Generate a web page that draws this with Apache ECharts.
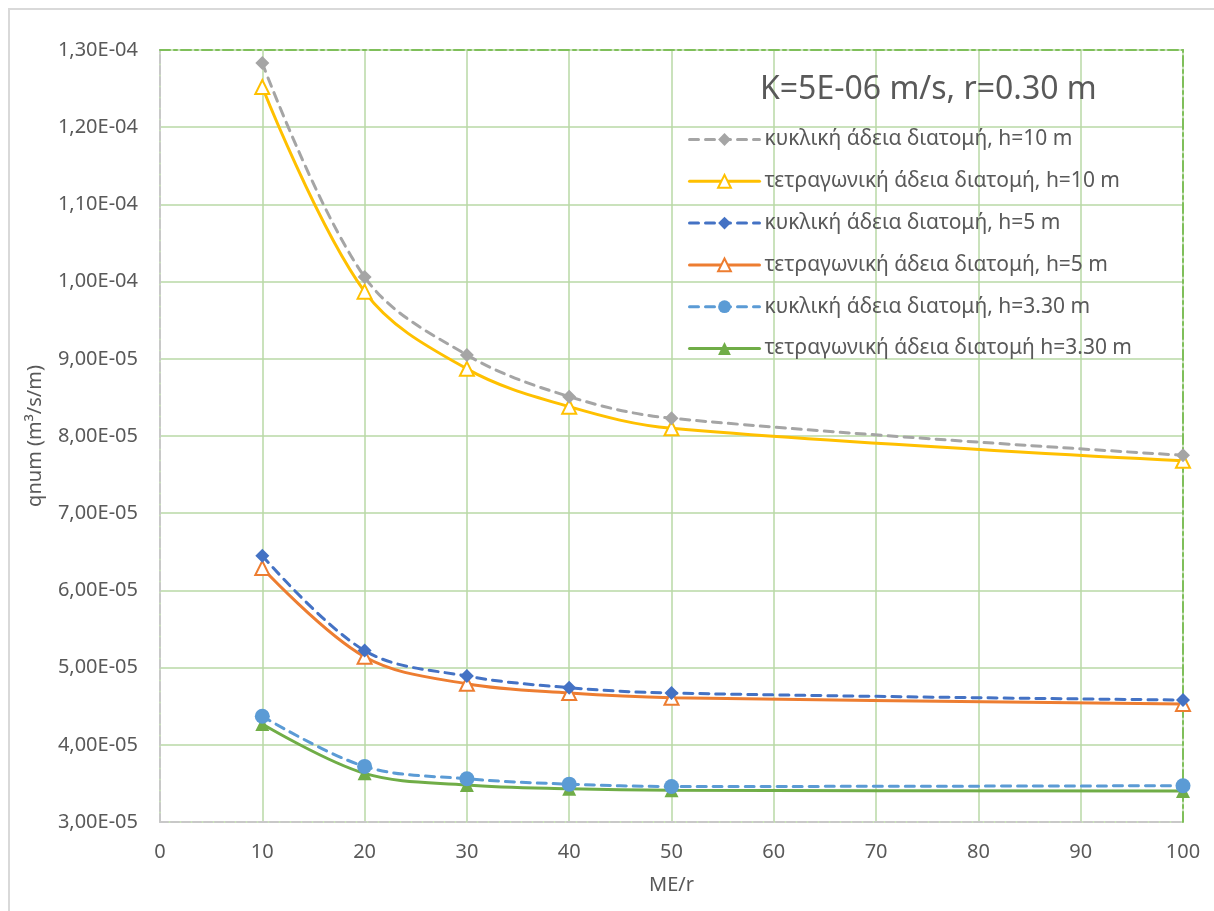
<!DOCTYPE html>
<html>
<head>
<meta charset="utf-8">
<script src="https://cdn.jsdelivr.net/npm/echarts@6/dist/echarts.min.js"></script>
<style>
html,body{margin:0;padding:0;background:#fff;}
#chart{width:1214px;height:911px;}
</style>
</head>
<body>
<div id="chart"></div>
<script>
const xValues = [10, 20, 30, 40, 50, 100];
const seriesNames = [
  'κυκλική άδεια διατομή, h=10 m',
  'τετραγωνική άδεια διατομή, h=10 m',
  'κυκλική άδεια διατομή, h=5 m',
  'τετραγωνική άδεια διατομή, h=5 m',
  'κυκλική άδεια διατομή, h=3.30 m',
  'τετραγωνική άδεια διατομή h=3.30 m'
];
const circ10 = [1.283e-4, 1.006e-4, 9.05e-5, 8.51e-5, 8.23e-5, 7.75e-5];
const sq10   = [1.252e-4, 9.87e-5, 8.87e-5, 8.38e-5, 8.10e-5, 7.68e-5];
const circ5  = [6.45e-5, 5.22e-5, 4.89e-5, 4.74e-5, 4.67e-5, 4.58e-5];
const sq5    = [6.29e-5, 5.14e-5, 4.79e-5, 4.67e-5, 4.61e-5, 4.53e-5];
const circ33 = [4.37e-5, 3.72e-5, 3.56e-5, 3.49e-5, 3.46e-5, 3.47e-5];
const sq33   = [4.27e-5, 3.63e-5, 3.48e-5, 3.43e-5, 3.41e-5, 3.40e-5];
const titleText = 'K=5E-06 m/s, r=0.30 m';
const xAxisName = 'ME/r';
const yAxisName = 'qnum (m³/s/m)';

const FONT = '"Noto Sans", "Open Sans", sans-serif';
const TXT = '#595959';

function fmtY(v) {
  const s = Number(v).toExponential(2);
  const parts = s.split('e');
  const mant = parts[0].replace('.', ',');
  let e = parseInt(parts[1], 10);
  const sign = e < 0 ? '-' : '+';
  e = Math.abs(e);
  return mant + 'E' + sign + (e < 10 ? '0' + e : '' + e);
}

function pairs(ys) { return xValues.map((x, i) => [x, ys[i]]); }

const styles = [
  {data: circ10, color: '#a5a5a5', dashed: true, symbol: 'diamond', size: 14, hollow: false},
  {data: sq10,   color: '#ffc000', dashed: false, symbol: 'triangle', size: 14, hollow: true},
  {data: circ5,  color: '#4472c4', dashed: true, symbol: 'diamond', size: 14, hollow: false},
  {data: sq5,    color: '#ed7d31', dashed: false, symbol: 'triangle', size: 14, hollow: true},
  {data: circ33, color: '#5b9bd5', dashed: true, symbol: 'circle', size: 15, hollow: false},
  {data: sq33,   color: '#70ad47', dashed: false, symbol: 'triangle', size: 14, hollow: false}
];

const series = styles.map((s, i) => ({
  name: seriesNames[i],
  type: 'line',
  xAxisIndex: 0,
  yAxisIndex: 0,
  data: pairs(s.data),
  smooth: 0.35,
  symbol: s.symbol,
  symbolSize: s.size,
  showAllSymbol: true,
  lineStyle: {color: s.color, width: 3, type: s.dashed ? [9, 7] : 'solid', cap: 'round'},
  itemStyle: s.hollow ? {color: '#ffffff', borderColor: s.color, borderWidth: 2}
                      : {color: s.color, borderColor: s.color, borderWidth: 0},
  emphasis: {disabled: true},
  z: 10 - i
}));

const chart = echarts.init(document.getElementById('chart'), null, {renderer: 'canvas'});
chart.setOption({
  animation: false,
  backgroundColor: '#ffffff',
  textStyle: {fontFamily: FONT},
  graphic: [
    {type: 'rect', shape: {x: 9, y: 9, width: 1300, height: 1000}, style: {fill: 'none', stroke: '#d9d9d9', lineWidth: 2}, silent: true, z: -10}
  ],
  title: {
    text: titleText,
    left: 755, top: 69,
    textStyle: {fontFamily: FONT, fontSize: 32, fontWeight: 'normal', color: TXT}
  },
  legend: {
    orient: 'vertical',
    left: 683, top: 124,
    itemWidth: 70, itemHeight: 16,
    itemGap: 20.8,
    lineStyle: {width: 'inherit'},
    textStyle: {fontFamily: FONT, fontSize: 21, color: TXT},
    data: seriesNames
  },
  grid: {left: 160, right: 31, top: 50, bottom: 89, containLabel: false},
  xAxis: [
    {
      type: 'value', min: 0, max: 100, interval: 10, position: 'bottom',
      name: xAxisName, nameLocation: 'middle', nameGap: 53,
      nameTextStyle: {fontFamily: FONT, fontSize: 20, color: TXT},
      axisLine: {show: true, lineStyle: {color: '#c8c8c8', width: 2, type: [8, 3]}},
      axisTick: {show: false},
      axisLabel: {fontFamily: FONT, fontSize: 20, color: TXT, margin: 20},
      splitLine: {show: true, lineStyle: {color: '#b8d9a6', width: 1.5}}
    },
    {
      type: 'value', min: 0, max: 100, interval: 10, position: 'top',
      axisLine: {show: true, onZero: false, lineStyle: {color: '#7fbf5a', width: 2, type: [10, 4, 3, 4]}},
      axisTick: {show: false}, axisLabel: {show: false}, splitLine: {show: false}
    }
  ],
  yAxis: [
    {
      type: 'value', min: 3e-5, max: 1.3e-4, interval: 1e-5, position: 'left',
      name: yAxisName, nameLocation: 'middle', nameGap: 115, nameRotate: 90,
      nameTextStyle: {fontFamily: FONT, fontSize: 20, color: TXT},
      axisLine: {show: true, onZero: false, lineStyle: {color: '#c8c8c8', width: 2, type: [8, 3]}},
      axisTick: {show: false},
      axisLabel: {fontFamily: FONT, fontSize: 20, color: TXT, margin: 22, formatter: fmtY},
      splitLine: {show: true, lineStyle: {color: '#b8d9a6', width: 1.5}}
    },
    {
      type: 'value', min: 3e-5, max: 1.3e-4, interval: 1e-5, position: 'right',
      axisLine: {show: true, onZero: false, lineStyle: {color: '#7fbf5a', width: 2, type: [10, 4, 3, 4]}},
      axisTick: {show: false}, axisLabel: {show: false}, splitLine: {show: false}
    }
  ],
  series: series
});
</script>
</body>
</html>
